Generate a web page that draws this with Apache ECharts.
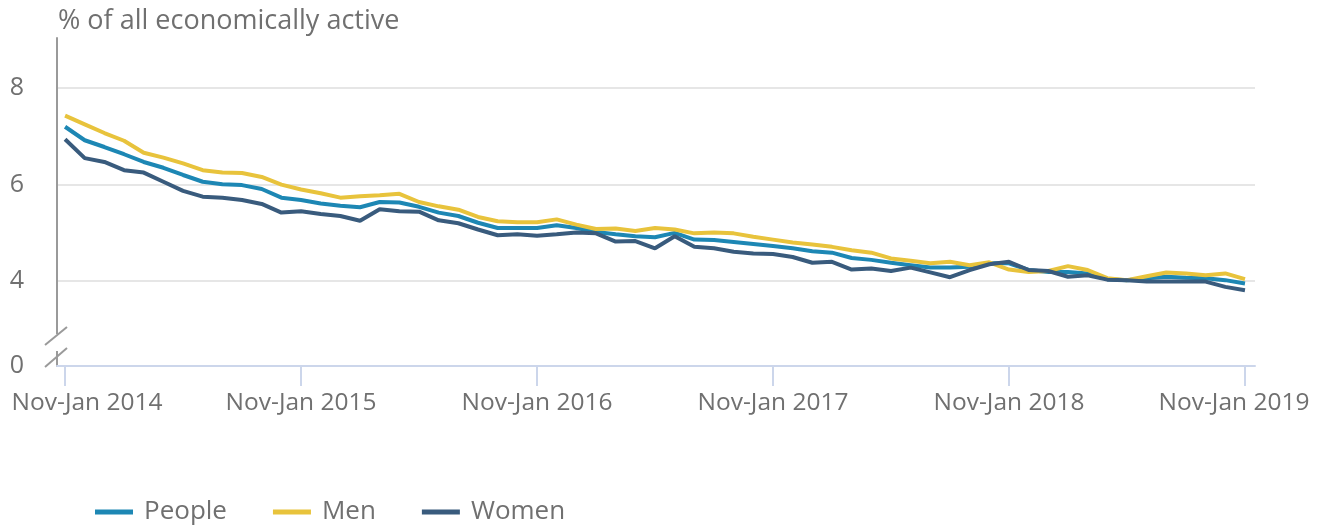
<!DOCTYPE html>
<html>
<head>
<meta charset="utf-8">
<script src="https://cdn.jsdelivr.net/npm/echarts@6/dist/echarts.min.js"></script>
<style>
  html, body { margin: 0; padding: 0; background: #fff; }
  #main { width: 1325px; height: 526px; }
</style>
</head>
<body>
<div id="main"></div>
<script>
// rolling three-month periods, Nov-Jan 2014 .. Nov-Jan 2019
var periods = ['Nov-Jan', 'Dec-Feb', 'Jan-Mar', 'Feb-Apr', 'Mar-May', 'Apr-Jun',
               'May-Jul', 'Jun-Aug', 'Jul-Sep', 'Aug-Oct', 'Sep-Nov', 'Oct-Dec'];
var firstYear = 2014;
var categories = [];
for (var n = 0; n < 61; n++) {
    categories.push(periods[n % 12] + ' ' + (firstYear + Math.floor(n / 12)));
}
var tickIndex = [0, 12, 24, 36, 48, 60];
var yTicks = [4, 6, 8];

var people = [7.20, 6.92, 6.78, 6.63, 6.47, 6.35, 6.20, 6.06, 6.01, 5.99,
              5.91, 5.73, 5.68, 5.61, 5.56, 5.53, 5.64, 5.63, 5.54, 5.42,
              5.35, 5.21, 5.10, 5.10, 5.10, 5.16, 5.10, 5.02, 4.97, 4.93,
              4.91, 5.00, 4.86, 4.85, 4.81, 4.77, 4.73, 4.68, 4.62, 4.59,
              4.48, 4.44, 4.38, 4.33, 4.28, 4.28, 4.30, 4.37, 4.37, 4.23,
              4.19, 4.19, 4.16, 4.04, 4.02, 4.06, 4.09, 4.07, 4.06, 4.02,
              3.95];
var men = [7.43, 7.25, 7.07, 6.91, 6.66, 6.56, 6.44, 6.30, 6.25, 6.24,
           6.16, 6.00, 5.90, 5.82, 5.73, 5.76, 5.78, 5.81, 5.64, 5.55,
           5.48, 5.33, 5.24, 5.22, 5.22, 5.28, 5.17, 5.08, 5.09, 5.04,
           5.10, 5.07, 4.99, 5.01, 4.99, 4.92, 4.86, 4.80, 4.76, 4.71,
           4.64, 4.59, 4.47, 4.42, 4.37, 4.40, 4.33, 4.39, 4.24, 4.19,
           4.21, 4.31, 4.23, 4.06, 4.02, 4.10, 4.18, 4.16, 4.12, 4.16,
           4.04];
var women = [6.94, 6.55, 6.47, 6.30, 6.25, 6.06, 5.87, 5.75, 5.73, 5.68,
             5.60, 5.42, 5.45, 5.39, 5.35, 5.25, 5.49, 5.45, 5.44, 5.26,
             5.20, 5.07, 4.95, 4.97, 4.94, 4.97, 5.01, 4.99, 4.82, 4.83,
             4.68, 4.93, 4.71, 4.68, 4.61, 4.57, 4.56, 4.50, 4.38, 4.40,
             4.24, 4.26, 4.21, 4.28, 4.18, 4.08, 4.23, 4.35, 4.40, 4.23,
             4.21, 4.09, 4.12, 4.03, 4.02, 3.99, 3.99, 3.99, 3.99, 3.88,
             3.81];

var Y_MIN = 2.24, Y_MAX = 9.04;   // axis broken below 4, bottom shown as 0
var grey = '#707070';
var font = 'Open Sans';

function pairs(arr) {
    return arr.map(function (v, i) { return [i, v]; });
}

function line(name, data, color) {
    return {
        name: name,
        type: 'line',
        data: pairs(data),
        symbol: 'none',
        lineStyle: { width: 4, color: color },
        itemStyle: { color: color }
    };
}

var chart = echarts.init(document.getElementById('main'));
chart.setOption({
    animation: false,
    textStyle: { fontFamily: font },
    title: {
        text: '% of all economically active',
        left: 53,
        top: 3,
        textStyle: { fontFamily: font, fontSize: 27, fontWeight: 'normal', color: grey }
    },
    legend: {
        data: ['People', 'Men', 'Women'],
        left: 95,
        top: 499,
        padding: 0,
        icon: 'rect',
        itemWidth: 38,
        itemHeight: 5,
        itemGap: 46,
        textStyle: { fontFamily: font, fontSize: 26, color: grey, padding: [0, 0, 0, 6] }
    },
    grid: { left: 57, right: 70, top: 38, bottom: 160, outerBoundsMode: 'none' },
    xAxis: {
        type: 'value',
        min: -0.41,
        max: 60.51,
        splitLine: { show: false },
        axisLine: { show: true, onZero: false, lineStyle: { color: '#ccd6eb', width: 2 } },
        axisTick: { show: true, customValues: tickIndex, length: 20, lineStyle: { color: '#ccd6eb', width: 2 } },
        axisLabel: {
            customValues: tickIndex,
            margin: 25,
            fontFamily: font,
            fontSize: 24.5,
            color: grey,
            formatter: function (v) {
                var i = Math.round(v);
                if (i === 0) return '{first|' + categories[i] + '}';
                if (i === 60) return '{last|' + categories[i] + '}';
                return categories[i];
            },
            rich: {
                first: { fontFamily: font, fontSize: 24.5, color: grey, padding: [0, 0, 0, 44] },
                last: { fontFamily: font, fontSize: 24.5, color: grey, padding: [0, 22, 0, 0] }
            }
        }
    },
    yAxis: {
        type: 'value',
        min: Y_MIN,
        max: Y_MAX,
        axisLine: { show: true, onZero: false, lineStyle: { color: '#9a9a9a', width: 2 } },
        axisTick: { show: false, customValues: yTicks },
        splitLine: { show: true, lineStyle: { color: '#e6e6e6', width: 2 } },
        axisLabel: {
            customValues: [Y_MIN].concat(yTicks),
            margin: 33,
            fontFamily: font,
            fontSize: 25,
            color: grey,
            formatter: function (v) { return v < 3 ? '0' : String(v); }
        }
    },
    graphic: [
        { type: 'rect', z: 100, shape: { x: 50, y: 334, width: 14, height: 17 }, style: { fill: '#fff' } },
        { type: 'line', z: 101, shape: { x1: 45, y1: 345, x2: 67, y2: 327 }, style: { stroke: '#9a9a9a', lineWidth: 2 } },
        { type: 'line', z: 101, shape: { x1: 45, y1: 367, x2: 67, y2: 348 }, style: { stroke: '#9a9a9a', lineWidth: 2 } }
    ],
    series: [
        line('People', people, '#1d87b4'),
        line('Men', men, '#e8c33c'),
        line('Women', women, '#395b7d')
    ]
});
</script>
</body>
</html>
